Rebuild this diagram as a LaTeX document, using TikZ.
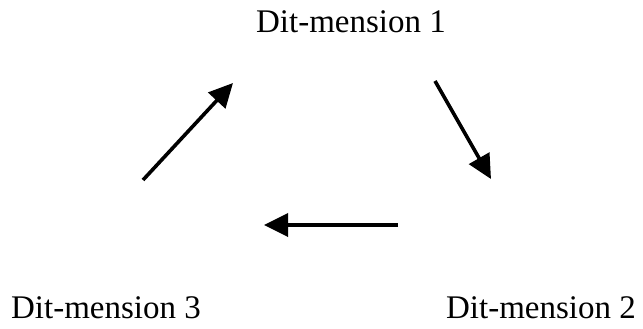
\documentclass[tikz,border=0pt]{standalone}
\usepackage{fontspec}
\setmainfont{Liberation Serif}
\usetikzlibrary{arrows.meta}
\begin{document}
\begin{tikzpicture}[x=1pt,y=-1pt,
  lbl/.style={font=\fontsize{33}{38}\selectfont, inner sep=0pt, anchor=base},
  flow/.style={line width=3.6pt, -{Triangle[length=24pt,width=23pt]}}]
\useasboundingbox (0,0) rectangle (643,329);
\node[lbl] (d1) at (351,33) {Dit-mension 1};
\node[lbl] (d2) at (541,318) {Dit-mension 2};
\node[lbl] (d3) at (106,318) {Dit-mension 3};
\coordinate (a1s) at (435,81);
\coordinate (a1e) at (491,179);
\coordinate (a2s) at (398,225);
\coordinate (a2e) at (264,225);
\coordinate (a3s) at (143,180);
\coordinate (a3e) at (233,83);
\draw[flow] (a1s) -- (a1e);
\draw[flow] (a2s) -- (a2e);
\draw[flow] (a3s) -- (a3e);
\end{tikzpicture}
\end{document}
